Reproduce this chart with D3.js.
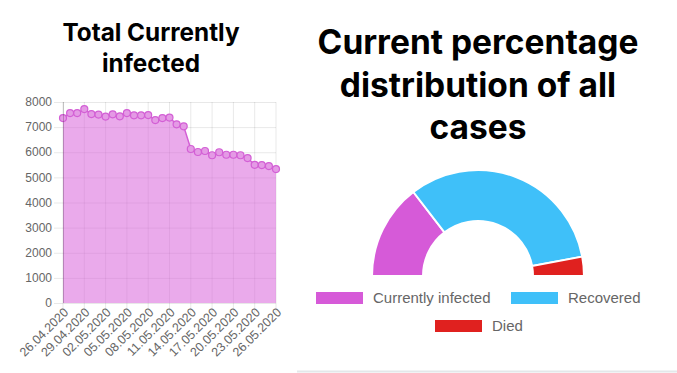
<!DOCTYPE html>
<html>
<head>
<meta charset="utf-8">
<script src="https://cdn.jsdelivr.net/npm/d3@7"></script>
<style>
  body { margin: 0; background: #fff; }
  svg { display: block; font-family: 'Liberation Sans', Arial, sans-serif; }
  .axis text { fill: #666; }
  .title { font-family: Inter, 'Liberation Sans', sans-serif; }
</style>
</head>
<body>
<div id="chart"></div>
<script>
// daily dates 26.04.2020 .. 26.05.2020
const dates = ['26.04.2020', '27.04.2020', '28.04.2020', '29.04.2020', '30.04.2020',
  '01.05.2020', '02.05.2020', '03.05.2020', '04.05.2020', '05.05.2020', '06.05.2020',
  '07.05.2020', '08.05.2020', '09.05.2020', '10.05.2020', '11.05.2020', '12.05.2020',
  '13.05.2020', '14.05.2020', '15.05.2020', '16.05.2020', '17.05.2020', '18.05.2020',
  '19.05.2020', '20.05.2020', '21.05.2020', '22.05.2020', '23.05.2020', '24.05.2020',
  '25.05.2020', '26.05.2020']
const infected = [7360, 7560, 7560, 7720, 7520, 7500, 7420, 7510, 7430, 7560, 7470,
  7470, 7480, 7280, 7360, 7380, 7110, 7030, 6130, 6010, 6050, 5880, 6000,
  5900, 5900, 5880, 5770, 5500, 5490, 5450, 5330]
const yTicks = [0, 1000, 2000, 3000, 4000, 5000, 6000, 7000, 8000]

const shareLabels = ['Currently infected', 'Recovered', 'Died']
const shareValues = [5330, 11900, 1070]
const shareColors = ['#d65ad8', '#3fc0f9', '#e0211f']

const width = 677
const height = 373

const svg = d3.select('#chart').append('svg')
  .attr('width', width)
  .attr('height', height)

// ---- left: line/area chart ----
const x = d3.scalePoint().domain(dates).range([63, 276])
const y = d3.scaleLinear().domain([0, 8000]).range([303, 102])
const labelled = dates.filter((d, i) => i % 3 === 0)

svg.append('text')
  .attr('class', 'title')
  .attr('text-anchor', 'middle')
  .attr('font-size', 24.3).attr('font-weight', 'bold').attr('fill', '#000')
  .selectAll('tspan')
  .data(['Total Currently', 'infected'])
  .join('tspan')
    .attr('x', 151)
    .attr('y', (d, i) => 41 + i * 31)
    .text(d => d)

// grid
const grid = svg.append('g').attr('stroke', 'rgba(0,0,0,0.09)').attr('stroke-width', 1)
grid.selectAll('line.h')
  .data(yTicks)
  .join('line')
    .attr('class', 'h')
    .attr('x1', 54).attr('x2', 276)
    .attr('y1', d => y(d) + 0.5).attr('y2', d => y(d) + 0.5)
grid.selectAll('line.v')
  .data(labelled)
  .join('line')
    .attr('class', 'v')
    .attr('x1', d => x(d)).attr('x2', d => x(d))
    .attr('y1', 102).attr('y2', 313)

const area = d3.area()
  .x((d, i) => x(dates[i]))
  .y0(y(0))
  .y1(d => y(d))
svg.append('path')
  .datum(infected)
  .attr('d', area)
  .attr('fill', 'rgba(216, 100, 218, 0.55)')

const line = d3.line()
  .x((d, i) => x(dates[i]))
  .y(d => y(d))
svg.append('path')
  .datum(infected)
  .attr('d', line)
  .attr('fill', 'none')
  .attr('stroke', '#d35fd5')
  .attr('stroke-width', 1.5)

svg.append('g')
  .selectAll('circle')
  .data(infected)
  .join('circle')
    .attr('cx', (d, i) => x(dates[i]))
    .attr('cy', d => y(d))
    .attr('r', 3.5)
    .attr('fill', '#e49ae5')
    .attr('stroke', '#d35fd5')
    .attr('stroke-width', 1.2)

// axes
svg.append('line')
  .attr('x1', 63.5).attr('x2', 63.5).attr('y1', 102).attr('y2', 303)
  .attr('stroke', 'rgba(0,0,0,0.2)')

svg.append('g')
  .attr('class', 'axis')
  .selectAll('text')
  .data(yTicks)
  .join('text')
    .attr('x', 52)
    .attr('y', d => y(d))
    .attr('dy', '0.35em')
    .attr('text-anchor', 'end')
    .attr('font-size', 12)
    .text(d => d)

svg.append('g')
  .attr('class', 'axis')
  .selectAll('text')
  .data(labelled)
  .join('text')
    .attr('transform', d => 'translate(' + (x(d) + 3) + ',' + 310 + ') rotate(-45)')
    .attr('text-anchor', 'end')
    .attr('dy', '0.35em')
    .attr('font-size', 12.5)
    .text(d => d)

// ---- right: half doughnut ----
svg.append('text')
  .attr('class', 'title')
  .attr('text-anchor', 'middle')
  .attr('font-size', 33.5).attr('font-weight', 'bold').attr('fill', '#000')
  .selectAll('tspan')
  .data(['Current percentage', 'distribution of all', 'cases'])
  .join('tspan')
    .attr('x', 478)
    .attr('y', (d, i) => 54 + i * 42.5)
    .text(d => d)

const pie = d3.pie()
  .sort(null)
  .startAngle(-Math.PI / 2)
  .endAngle(Math.PI / 2)
const arc = d3.arc().innerRadius(55).outerRadius(106)

svg.append('g')
  .attr('transform', 'translate(478,276)')
  .selectAll('path')
  .data(pie(shareValues))
  .join('path')
    .attr('d', arc)
    .attr('fill', (d, i) => shareColors[i])
    .attr('stroke', '#fff')
    .attr('stroke-width', 2)

// legend
const legendPos = [
  {bx: 316, by: 292, tx: 373},
  {bx: 511, by: 292, tx: 568},
  {bx: 435, by: 320, tx: 492}
]
const legend = svg.append('g')
legend.selectAll('rect')
  .data(shareLabels)
  .join('rect')
    .attr('x', (d, i) => legendPos[i].bx)
    .attr('y', (d, i) => legendPos[i].by)
    .attr('width', 47).attr('height', 12)
    .attr('fill', (d, i) => shareColors[i])
legend.selectAll('text')
  .data(shareLabels)
  .join('text')
    .attr('x', (d, i) => legendPos[i].tx)
    .attr('y', (d, i) => legendPos[i].by + 6)
    .attr('dy', '0.35em')
    .attr('font-size', 15)
    .attr('fill', '#666')
    .text(d => d)

svg.append('line')
  .attr('x1', 297).attr('x2', 677).attr('y1', 371.5).attr('y2', 371.5)
  .attr('stroke', '#e3e8ea').attr('stroke-width', 2)
</script>
</body>
</html>
